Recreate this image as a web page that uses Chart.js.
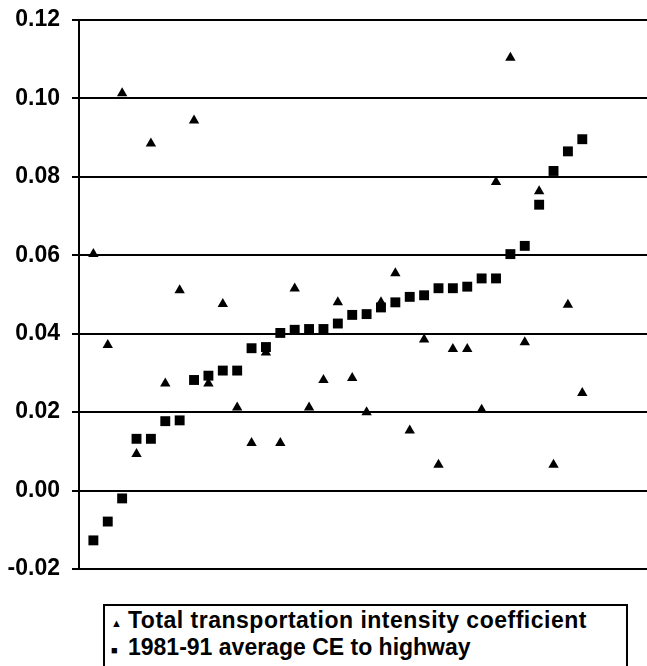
<!DOCTYPE html>
<html>
<head>
<meta charset="utf-8">
<script src="https://cdn.jsdelivr.net/npm/chart.js@4/dist/chart.umd.min.js"></script>
<style>
  html, body { margin: 0; padding: 0; background: #fff; }
  #wrap { position: relative; width: 647px; height: 666px; overflow: hidden; }
  #chart { position: absolute; left: 0; top: 0; }
  #legend {
    position: absolute; left: 103px; top: 604px; width: 521px; height: 80px;
    border: 2px solid #000; font: bold 23px/23px "Liberation Sans", Arial, sans-serif; color: #000;
  }
  #legend .txt { position: absolute; left: 23px; white-space: nowrap; }
  #legend .sym { position: absolute; left: 6px; font-size: 11px; line-height: 11px; }
</style>
</head>
<body>
<div id="wrap">
  <canvas id="chart" width="647" height="590"></canvas>
  <div id="legend">
    <span class="sym" style="top:12px">▲</span>
    <div class="txt" style="top:3px; letter-spacing:0.5px">Total transportation intensity coefficient</div>
    <span class="sym" style="top:39px">■</span>
    <div class="txt" style="top:30px">1981-91 average CE to highway</div>
  </div>
</div>
<script>
// One entry per industry (unlabelled on the horizontal axis), sorted by CE
const intensity = [
  0.0603, 0.0371, 0.1013, 0.0093, 0.0885, 0.0273, 0.0511, 0.0944, 0.0273, 0.0476,
  0.0212, 0.0121, 0.0352, 0.0121, 0.0515, 0.0212, 0.0282, 0.0480, 0.0287, 0.0200,
  0.0480, 0.0554, 0.0153, 0.0385, 0.0066, 0.0361, 0.0361, 0.0206, 0.0787, 0.1104,
  0.0378, 0.0763, 0.0066, 0.0474, 0.0249
];
const avgCE = [
  -0.0127, -0.0079, -0.0020, 0.0132, 0.0132, 0.0177, 0.0179, 0.0282, 0.0293, 0.0306,
  0.0306, 0.0363, 0.0366, 0.0402, 0.0410, 0.0412, 0.0412, 0.0426, 0.0448, 0.0450,
  0.0467, 0.0480, 0.0494, 0.0498, 0.0516, 0.0516, 0.0520, 0.0541, 0.0541, 0.0603,
  0.0624, 0.0729, 0.0815, 0.0865, 0.0896
];
const yTicks = [-0.02, 0.00, 0.02, 0.04, 0.06, 0.08, 0.10, 0.12];

const toPoints = arr => arr.map((v, i) => ({ x: i, y: v }));

new Chart(document.getElementById('chart'), {
  type: 'scatter',
  data: {
    datasets: [
      {
        label: 'Total transportation intensity coefficient',
        data: toPoints(intensity),
        pointStyle: 'triangle',
        radius: 6,
        backgroundColor: '#000',
        borderColor: '#000',
        borderWidth: 0
      },
      {
        label: '1981-91 average CE to highway',
        data: toPoints(avgCE),
        pointStyle: 'rect',
        radius: 7,
        backgroundColor: '#000',
        borderColor: '#000',
        borderWidth: 0
      }
    ]
  },
  options: {
    responsive: false,
    animation: false,
    layout: { autoPadding: false, padding: { top: 20, bottom: 21, right: 0, left: 0 } },
    plugins: { legend: { display: false }, tooltip: { enabled: false } },
    scales: {
      x: {
        type: 'linear',
        min: -1,
        max: 38.5,
        display: false
      },
      y: {
        min: -0.02,
        max: 0.12,
        afterBuildTicks: axis => { axis.ticks = yTicks.map(v => ({ value: v })); },
        afterFit: axis => {
          axis.width = 79;
          axis.paddingTop = 0;
          axis.paddingBottom = 0;
        },
        ticks: {
          color: '#000',
          padding: 12,
          font: { family: '"Liberation Sans", Arial, sans-serif', size: 23, weight: 'bold' },
          callback: v => v.toFixed(2)
        },
        grid: { color: '#000', lineWidth: 2, tickLength: 7 },
        border: { display: true, color: '#000', width: 2 }
      }
    }
  }
});
</script>
</body>
</html>
